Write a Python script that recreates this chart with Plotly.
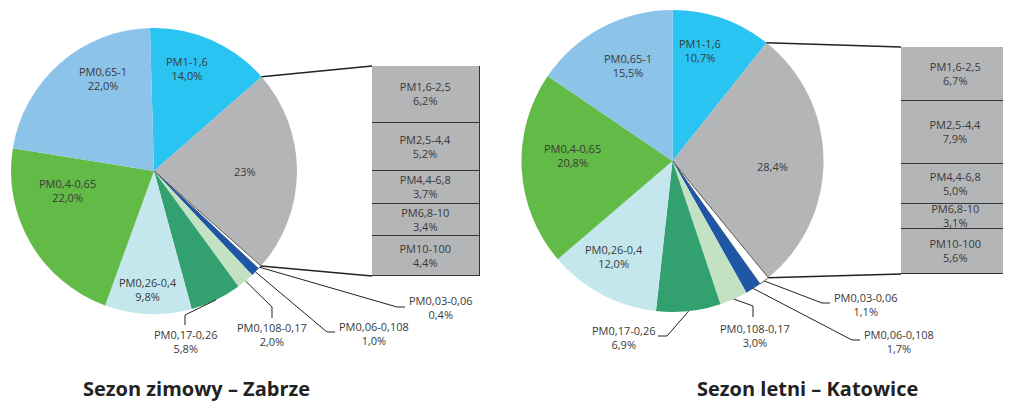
import math
import plotly.graph_objects as go

# pie slices, clockwise from 12 o'clock (index 1 is the grey "coarse" slice)
fine_labels = ["PM1-1,6", "", "PM0,03-0,06", "PM0,06-0,108", "PM0,108-0,17",
               "PM0,17-0,26", "PM0,26-0,4", "PM0,4-0,65", "PM0,65-1"]
winter_pie = [14.0, 23.0, 0.4, 1.0, 2.0, 5.8, 9.8, 22.0, 22.0]
summer_pie = [10.7, 28.4, 1.1, 1.7, 3.0, 6.9, 12.0, 20.8, 15.5]
winter_grey_text = "23%"
summer_grey_text = "28,4%"

# breakdown of the grey slice (top to bottom)
coarse_labels = ["PM1,6-2,5", "PM2,5-4,4", "PM4,4-6,8", "PM6,8-10", "PM10-100"]
winter_coarse = [6.2, 5.2, 3.7, 3.4, 4.4]
summer_coarse = [6.7, 7.9, 5.0, 3.1, 5.6]

titles = ["Sezon zimowy – Zabrze", "Sezon letni – Katowice"]

pie_colors = ["#29C4F2", "#B4B5B7", "#FFFFFF", "#1F56A5", "#C3E2C3",
              "#33A06F", "#C4E7EE", "#62BB46", "#8CC3E9"]
GREY = "#B4B5B7"
TXT = "#3a3a3a"
FONT = "Open Sans"

# the page body has an 8px margin, so the figure is drawn from (8, 8)
OFF = 8
W, H = 1011 - OFF, 403 - OFF


def px(x):
    return (x - OFF) / W


def py(y):
    return 1 - (y - OFF) / H


def pct(v):
    return f"{v:.1f}".replace(".", ",") + "%"


# layout geometry in window pixels
pies = [dict(cx=154, cy=171, r=143, rot=-1.6), dict(cx=672.5, cy=161, r=151, rot=0)]
bars = [dict(x0=372, x1=480, y0=66, y1=276), dict(x0=901, x1=1013, y0=47, y1=274)]
# where the labels inside the pie sit (slice index -> centre)
inside = [
    {0: (187, 69), 1: (245, 171), 6: (148, 289), 7: (67, 190), 8: (103, 78)},
    {0: (700, 50), 1: (772, 167), 6: (614, 256), 7: (572, 155), 8: (628, 65)},
]
# outside label layout: elbow points and label anchor for the 4 small slices
outside = [
    [  # winter
        dict(i=2, pts=[(397, 307), (405, 307)], x=407, y=307, xa="left"),
        dict(i=3, pts=[(327, 332), (335, 332)], x=337, y=333, xa="left"),
        dict(i=4, pts=[(272, 307), (272, 318)], x=272, y=334, xa="center"),
        dict(i=5, pts=[(185, 315), (185, 325)], x=185, y=341, xa="center"),
    ],
    [  # summer
        dict(i=2, pts=[(822, 303), (830, 303)], x=832, y=304, xa="left"),
        dict(i=3, pts=[(852, 340), (860, 340)], x=862, y=341, xa="left"),
        dict(i=4, pts=[(753, 306), (753, 317)], x=755, y=335, xa="center"),
        dict(i=5, pts=[(667, 336), (658, 336)], x=657, y=337, xa="right"),
    ],
]


def edge_point(p, values, frac_sum):
    ang = math.radians(p["rot"] + 360 * frac_sum / sum(values))
    return p["cx"] + p["r"] * math.sin(ang), p["cy"] - p["r"] * math.cos(ang)


def label(x, y, text, xa="center"):
    return dict(x=px(x), y=py(y), xref="paper", yref="paper",
                xanchor=xa, yanchor="middle", align="center", showarrow=False,
                text=text, font=dict(family=FONT, size=11, color=TXT))


fig = go.Figure()
shapes, annotations = [], []

for k, (vals, coarse, grey_text) in enumerate(
        [(winter_pie, winter_coarse, winter_grey_text),
         (summer_pie, summer_coarse, summer_grey_text)]):
    p, b = pies[k], bars[k]

    fig.add_trace(go.Pie(
        values=vals, textinfo="none", sort=False, direction="clockwise",
        rotation=p["rot"], hoverinfo="skip", showlegend=False,
        marker=dict(colors=pie_colors,
                    line=dict(color=["#333" if i == 2 else "rgba(0,0,0,0)" for i in range(9)],
                              width=[0.8 if i == 2 else 0 for i in range(9)])),
        domain=dict(x=[px(p["cx"] - p["r"]), px(p["cx"] + p["r"])],
                    y=[py(p["cy"] + p["r"]), py(p["cy"] - p["r"])]),
    ))

    for i, (x, y) in inside[k].items():
        text = grey_text if i == 1 else f"{fine_labels[i]}<br>{pct(vals[i])}"
        annotations.append(label(x, y, text))

    # stacked bar for the grey slice
    xa, ya = ("x", "y") if k == 0 else ("x2", "y2")
    for lab, v in reversed(list(zip(coarse_labels, coarse))):
        fig.add_trace(go.Bar(
            x=[0], y=[v], xaxis=xa, yaxis=ya, width=1,
            marker=dict(color=GREY, line=dict(color="#333", width=1.5)),
            text=[f"{lab}<br>{pct(v)}"], textposition="inside",
            insidetextanchor="middle", textangle=0, constraintext="none",
            textfont=dict(family=FONT, size=11, color=TXT),
            hoverinfo="skip", showlegend=False,
        ))
    sfx = "" if k == 0 else "2"
    fig.update_layout({
        f"xaxis{sfx}": dict(domain=[px(b["x0"]), min(px(b["x1"]), 1)], range=[-0.5, 0.5],
                            visible=False, anchor=ya, fixedrange=True),
        f"yaxis{sfx}": dict(domain=[py(b["y1"]), py(b["y0"])], range=[0, sum(coarse)],
                            visible=False, anchor=xa, fixedrange=True),
    })

    # connector lines pie -> bar
    top = edge_point(p, vals, vals[0])
    bot = edge_point(p, vals, vals[0] + vals[1])
    for (x0, y0), (x1, y1) in [(top, (b["x0"], b["y0"])), (bot, (b["x0"], b["y1"]))]:
        shapes.append(dict(type="line", xref="paper", yref="paper",
                           x0=px(x0), y0=py(y0), x1=px(x1), y1=py(y1),
                           line=dict(color="#222", width=1.5)))

    # leader lines and labels of the small slices
    for o in outside[k]:
        i = o["i"]
        start = edge_point(p, vals, sum(vals[:i]) + vals[i] / 2)
        pts = [start] + o["pts"]
        path = "M " + " L ".join(f"{px(x)},{py(y)}" for x, y in pts)
        shapes.append(dict(type="path", xref="paper", yref="paper", path=path,
                           line=dict(color="#222", width=1)))
        annotations.append(label(o["x"], o["y"],
                                 f"{fine_labels[i]}<br>{pct(vals[i])}", o["xa"]))

for t, x in zip(titles, [196, 807]):
    annotations.append(dict(x=px(x), y=py(388), xref="paper", yref="paper",
                            xanchor="center", yanchor="middle", showarrow=False,
                            text=f"<b>{t}</b>",
                            font=dict(family=FONT, size=20, color="#222")))

fig.update_layout(
    width=W, height=H, margin=dict(l=0, r=0, t=0, b=0),
    paper_bgcolor="white", plot_bgcolor="rgba(0,0,0,0)",
    barmode="stack", bargap=0,
    shapes=shapes, annotations=annotations,
)

fig.write_html("out.html")
